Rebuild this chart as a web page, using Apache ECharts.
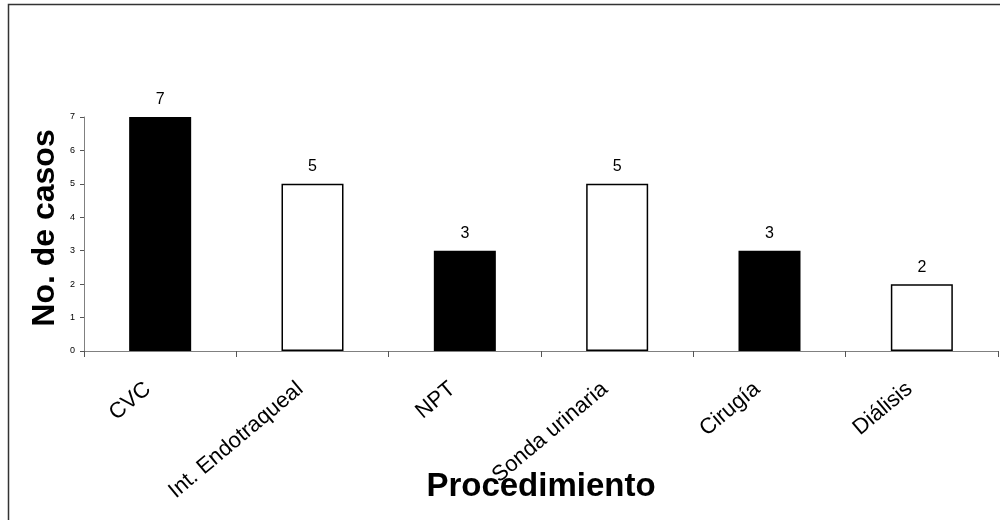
<!DOCTYPE html>
<html>
<head>
<meta charset="utf-8">
<script src="https://cdn.jsdelivr.net/npm/echarts@6/dist/echarts.min.js"></script>
<style>
  html, body { margin: 0; padding: 0; background: #fff; }
  #chart { width: 1000px; height: 520px; }
</style>
</head>
<body>
<div id="chart"></div>
<script>
// Procedures and number of cases
const procedimientos = ['CVC', 'Int. Endotraqueal', 'NPT', 'Sonda urinaria', 'Cirugía', 'Diálisis'];
const casos = [7, 5, 3, 5, 3, 2];
const rellenos = ['#000000', '#ffffff', '#000000', '#ffffff', '#000000', '#ffffff'];
const yTicks = [0, 1, 2, 3, 4, 5, 6, 7];

const FONT = '"Liberation Sans", Arial, sans-serif';

const chart = echarts.init(document.getElementById('chart'), null, { renderer: 'canvas' });

chart.setOption({
  animation: false,
  backgroundColor: '#ffffff',
  grid: { left: 84, right: 2, top: 117, bottom: 169, containLabel: false },
  graphic: [
    {
      type: 'rect',
      shape: { x: 8.5, y: 4.5, width: 1000, height: 530 },
      style: { fill: 'none', stroke: '#333333', lineWidth: 1.5 },
      silent: true
    },
    {
      type: 'text',
      x: 541, y: 487,
      style: {
        text: 'Procedimiento',
        align: 'center', verticalAlign: 'middle',
        font: 'bold 33px ' + FONT, fill: '#000'
      }
    },
    {
      type: 'text',
      rotation: Math.PI / 2,
      x: 45, y: 228,
      style: {
        text: 'No. de casos',
        align: 'center', verticalAlign: 'middle',
        font: 'bold 32px ' + FONT, fill: '#000'
      }
    }
  ],
  xAxis: {
    type: 'category',
    data: procedimientos,
    boundaryGap: true,
    axisLine: { lineStyle: { color: '#808080', width: 1 } },
    axisTick: { show: true, alignWithLabel: false, length: 6, lineStyle: { color: '#555' } },
    axisLabel: {
      interval: 0, rotate: 40, margin: 25,
      padding: [0, 16, 0, 0],
      fontFamily: FONT, fontSize: 22, color: '#000'
    },
    splitLine: { show: false }
  },
  yAxis: {
    type: 'value',
    min: 0, max: 7, interval: 1,
    axisLine: { show: true, lineStyle: { color: '#808080', width: 1 } },
    axisTick: { show: true, length: 4, lineStyle: { color: '#555' } },
    axisLabel: {
      fontFamily: FONT, fontSize: 9, color: '#000', margin: 9,
      formatter: v => (yTicks.includes(v) ? String(v) : '')
    },
    splitLine: { show: false }
  },
  series: [{
    type: 'bar',
    barWidth: 62,
    data: casos.map((v, i) => ({
      value: v,
      itemStyle: { color: rellenos[i], borderColor: '#000', borderWidth: 1.5 }
    })),
    label: {
      show: true, position: 'top', distance: 9,
      fontFamily: FONT, fontSize: 16, color: '#000'
    }
  }]
});
</script>
</body>
</html>
